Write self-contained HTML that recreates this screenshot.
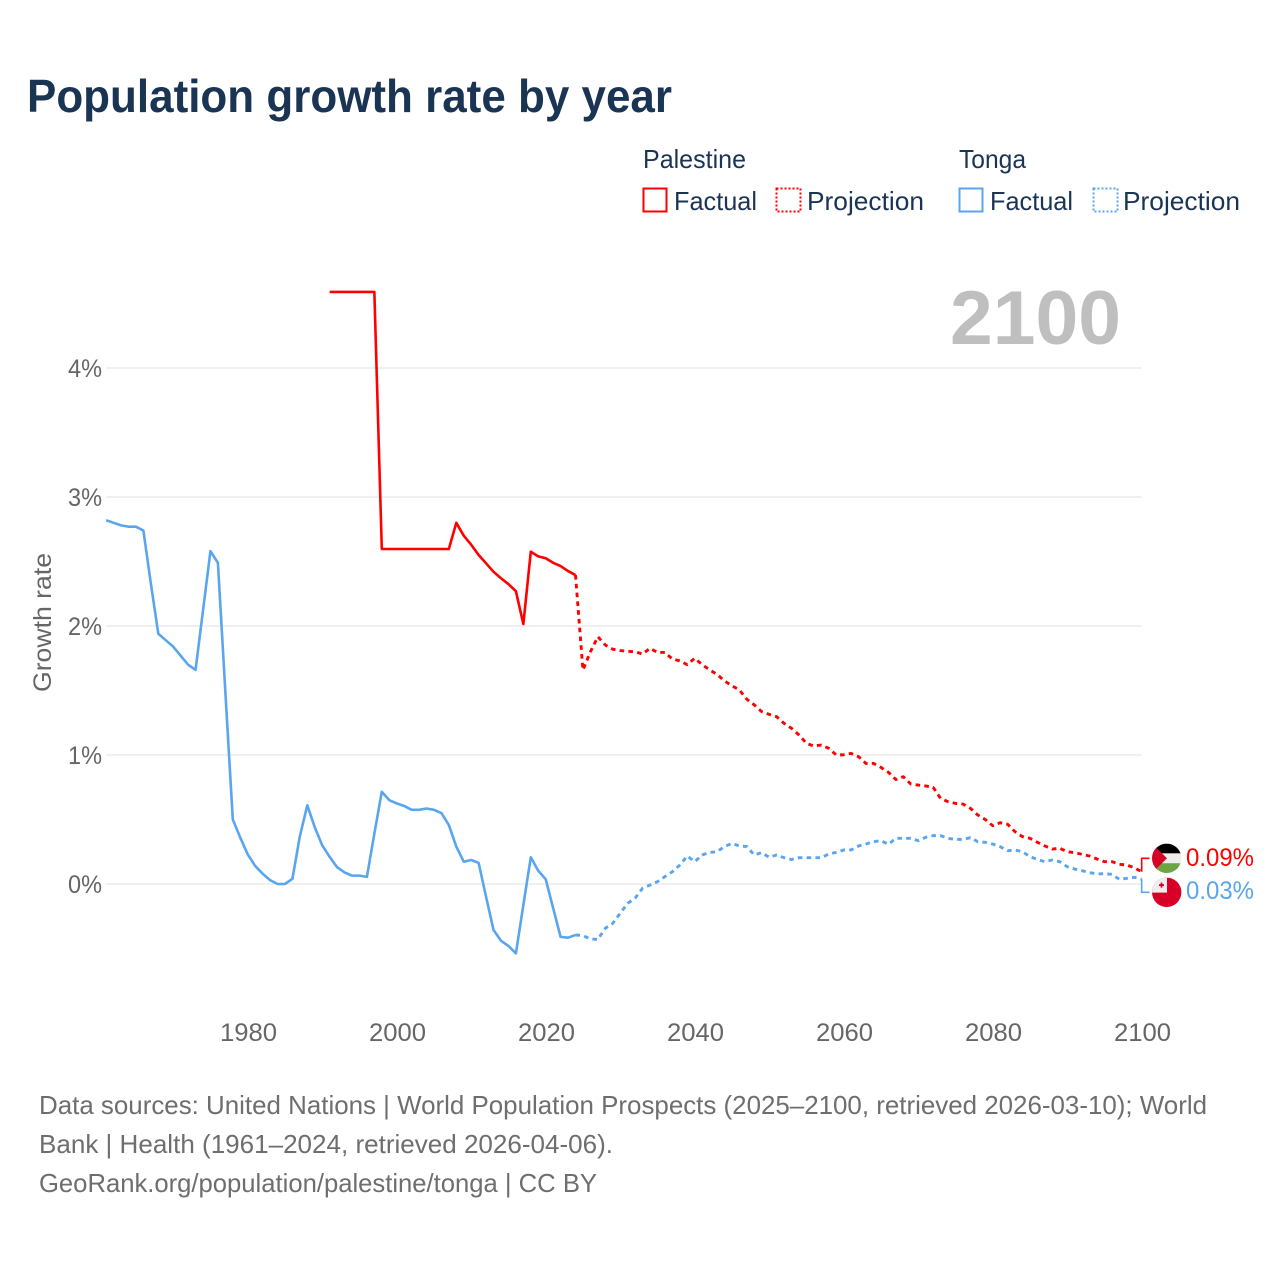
<!DOCTYPE html>
<html lang="en">
<head>
<meta charset="utf-8">
<title>Population growth rate by year</title>
<style>
html,body{margin:0;padding:0;background:#fff;}
svg{display:block;font-family:"Liberation Sans",sans-serif;}
</style>
</head>
<body>
<svg id="chart" xmlns="http://www.w3.org/2000/svg" width="1280" height="1280" viewBox="0 0 1280 1280">
  <rect width="1280" height="1280" fill="#fff"/>
  <text x="27" y="112" font-size="46" font-weight="700" fill="#1a3454" textLength="645" lengthAdjust="spacingAndGlyphs">Population growth rate by year</text>

  <g font-size="26" fill="#1a3454">
    <text x="643" y="168" textLength="103" lengthAdjust="spacingAndGlyphs">Palestine</text>
    <text x="959" y="168" textLength="67" lengthAdjust="spacingAndGlyphs">Tonga</text>
    <rect x="643.5" y="188.5" width="23" height="23" fill="none" stroke="#ff0000" stroke-width="2"/>
    <text x="674" y="210" textLength="83" lengthAdjust="spacingAndGlyphs">Factual</text>
    <rect x="776.5" y="188.5" width="24" height="23" fill="none" stroke="#ff0000" stroke-width="2" stroke-dasharray="2 2"/>
    <text x="807" y="210" textLength="117" lengthAdjust="spacingAndGlyphs">Projection</text>
    <rect x="959.5" y="188.5" width="23" height="23" fill="none" stroke="#5aa5ef" stroke-width="2"/>
    <text x="990" y="210" textLength="83" lengthAdjust="spacingAndGlyphs">Factual</text>
    <rect x="1093.5" y="188.5" width="24" height="23" fill="none" stroke="#5aa5ef" stroke-width="2" stroke-dasharray="2 2"/>
    <text x="1123" y="210" textLength="117" lengthAdjust="spacingAndGlyphs">Projection</text>
  </g>

  <g id="grid"></g>
  <text x="950" y="344" font-size="76" font-weight="700" fill="#bfbfbf" textLength="171" lengthAdjust="spacingAndGlyphs">2100</text>
  <g id="yticks" font-size="25" fill="#666666"></g>
  <g id="xticks" font-size="25" fill="#666666"></g>
  <text transform="translate(51,692) rotate(-90)" font-size="25" fill="#666666" textLength="139" lengthAdjust="spacingAndGlyphs">Growth rate</text>
  <g id="series" fill="none" stroke-width="2.6" stroke-linejoin="round"></g>

  <defs>
    <clipPath id="flag-clip-ps"><circle cx="1166.7" cy="858.3" r="14.7"/></clipPath>
    <clipPath id="flag-clip-to"><circle cx="1166.7" cy="892.3" r="14.7"/></clipPath>
  </defs>
  <g clip-path="url(#flag-clip-ps)">
    <rect x="1152" y="843.6" width="30" height="9.8" fill="#000"/>
    <rect x="1152" y="853.4" width="30" height="9.8" fill="#eeeeee"/>
    <rect x="1152" y="863.2" width="30" height="10" fill="#6da544"/>
    <polygon points="1152,843.6 1152,873 1167,858.3" fill="#d80027"/>
  </g>
  <g clip-path="url(#flag-clip-to)">
    <rect x="1152" y="877.6" width="30" height="30" fill="#d80027"/>
    <rect x="1152" y="877.6" width="15" height="15" fill="#eeeeee"/>
    <rect x="1159" y="884.2" width="5" height="1.8" fill="#d80027"/>
    <rect x="1160.6" y="882.6" width="1.8" height="5" fill="#d80027"/>
  </g>
  <text id="label-ps" x="1186" y="866" font-size="25" fill="#ff0000" textLength="68" lengthAdjust="spacingAndGlyphs"></text>
  <text id="label-to" x="1186" y="899" font-size="25" fill="#5aa5ef" textLength="68" lengthAdjust="spacingAndGlyphs"></text>

  <g font-size="26" fill="#6e6e6e">
    <text x="39" y="1114" textLength="1168" lengthAdjust="spacingAndGlyphs">Data sources: United Nations | World Population Prospects (2025–2100, retrieved 2026-03-10); World</text>
    <text x="39" y="1153" textLength="574" lengthAdjust="spacingAndGlyphs">Bank | Health (1961–2024, retrieved 2026-04-06).</text>
    <text x="39" y="1192" textLength="558" lengthAdjust="spacingAndGlyphs">GeoRank.org/population/palestine/tonga | CC BY</text>
  </g>
</svg>
<script>
const yTickValues = [0, 1, 2, 3, 4];
const yTickLabels = ['0%', '1%', '2%', '3%', '4%'];
const xTickValues = [1980, 2000, 2020, 2040, 2060, 2080, 2100];
const xTickLabels = ['1980', '2000', '2020', '2040', '2060', '2080', '2100'];
const endLabels = ['0.09%', '0.03%'];

const tongaStartYear = 1961;
const tongaFactual = [2.82,2.80,2.78,2.77,2.77,2.74,2.33,1.94,1.89,1.84,1.77,1.70,1.66,2.12,2.58,2.49,1.49,0.50,0.36,0.23,0.14,0.08,0.03,0.00,0.00,0.04,0.37,0.61,0.44,0.30,0.21,0.13,0.09,0.065,0.065,0.055,0.39,0.715,0.65,0.625,0.605,0.575,0.575,0.585,0.575,0.55,0.457,0.29,0.173,0.186,0.163,-0.10,-0.357,-0.44,-0.48,-0.537,-0.163,0.207,0.103,0.037,-0.187,-0.41,-0.416,-0.395];
const palestineStartYear = 1991;
const palestineFactual = [4.59,4.59,4.59,4.59,4.59,4.59,4.59,2.597,2.597,2.597,2.597,2.597,2.597,2.597,2.597,2.597,2.597,2.80,2.70,2.63,2.55,2.486,2.42,2.37,2.325,2.27,2.015,2.576,2.54,2.525,2.49,2.465,2.426,2.395];
const projectionStartYear = 2024;
const tongaProjection = [-0.395,-0.40,-0.426,-0.43,-0.343,-0.305,-0.227,-0.15,-0.11,-0.033,-0.008,0.018,0.057,0.095,0.147,0.217,0.173,0.225,0.245,0.25,0.29,0.315,0.295,0.29,0.225,0.243,0.207,0.225,0.204,0.19,0.204,0.204,0.204,0.204,0.233,0.245,0.264,0.264,0.295,0.31,0.328,0.336,0.308,0.354,0.354,0.354,0.336,0.362,0.375,0.375,0.354,0.346,0.346,0.359,0.328,0.323,0.31,0.29,0.258,0.264,0.25,0.212,0.19,0.173,0.186,0.173,0.134,0.116,0.103,0.088,0.078,0.08,0.075,0.036,0.044,0.052,0.036];
const palestineProjection = [2.395,1.659,1.80,1.917,1.853,1.82,1.81,1.804,1.80,1.783,1.827,1.795,1.795,1.744,1.73,1.70,1.75,1.70,1.66,1.625,1.574,1.537,1.504,1.432,1.388,1.336,1.315,1.297,1.245,1.207,1.155,1.09,1.07,1.077,1.052,1.0,1.002,1.012,0.987,0.934,0.935,0.904,0.866,0.81,0.832,0.775,0.767,0.76,0.75,0.664,0.638,0.625,0.62,0.587,0.535,0.50,0.452,0.475,0.463,0.405,0.367,0.354,0.323,0.295,0.271,0.277,0.25,0.243,0.23,0.217,0.194,0.173,0.173,0.153,0.147,0.126,0.095];

const NS = 'http://www.w3.org/2000/svg';
const xScale = year => 396.7 + (year - 2000) * 7.45;
const yScale = value => 884 - value * 129;
const xLeft = xScale(1961);
const xRight = xScale(2100);

function make(tag, attrs, parent) {
  const el = document.createElementNS(NS, tag);
  for (const k in attrs) el.setAttribute(k, attrs[k]);
  parent.appendChild(el);
  return el;
}
function pathFrom(startYear, values) {
  return values.map((v, i) => (i ? 'L' : 'M') + xScale(startYear + i).toFixed(2) + ' ' + yScale(v).toFixed(2)).join(' ');
}

const grid = document.getElementById('grid');
const yticks = document.getElementById('yticks');
const xticks = document.getElementById('xticks');
const series = document.getElementById('series');

yTickValues.forEach((v, i) => {
  const line = make('line', {x1: xLeft, x2: xRight, y1: yScale(v), y2: yScale(v), stroke: '#e8e8e8', 'stroke-width': 1.2}, grid);
  
  
  const t = make('text', {x: 102, y: yScale(v) + 9, 'text-anchor': 'end', textLength: 34, lengthAdjust: 'spacingAndGlyphs'}, yticks);
  
  
  t.textContent = yTickLabels[i];
});

xTickValues.forEach((v, i) => {
  const t = make('text', {x: xScale(v) + 0.8, y: 1041, 'text-anchor': 'middle', textLength: 57, lengthAdjust: 'spacingAndGlyphs'}, xticks);
  
  
  t.textContent = xTickLabels[i];
});

const redColor = '#ff0000';
const blueColor = '#5aa5ef';
const dash = '4.6 4.2';

const lineTF = make('path', {d: pathFrom(tongaStartYear, tongaFactual), stroke: blueColor}, series);


const lineTP = make('path', {d: pathFrom(projectionStartYear, tongaProjection), stroke: blueColor, 'stroke-width': 2.9, 'stroke-dasharray': dash}, series);


const linePF = make('path', {d: pathFrom(palestineStartYear, palestineFactual), stroke: redColor}, series);


const linePP = make('path', {d: pathFrom(projectionStartYear, palestineProjection), stroke: redColor, 'stroke-width': 2.9, 'stroke-dasharray': dash}, series);



const lastP = yScale(palestineProjection[palestineProjection.length - 1]);
const lastT = yScale(tongaProjection[tongaProjection.length - 1]);
const connP = make('path', {d: 'M' + xRight + ' ' + lastP + ' V858.3 H1149.5', stroke: redColor, 'stroke-width': 1.6}, series);


const connT = make('path', {d: 'M' + xRight + ' ' + lastT + ' V892.3 H1149.5', stroke: blueColor, 'stroke-width': 1.6}, series);



document.getElementById('label-ps').textContent = endLabels[0];
document.getElementById('label-to').textContent = endLabels[1];
</script>
</body>
</html>
